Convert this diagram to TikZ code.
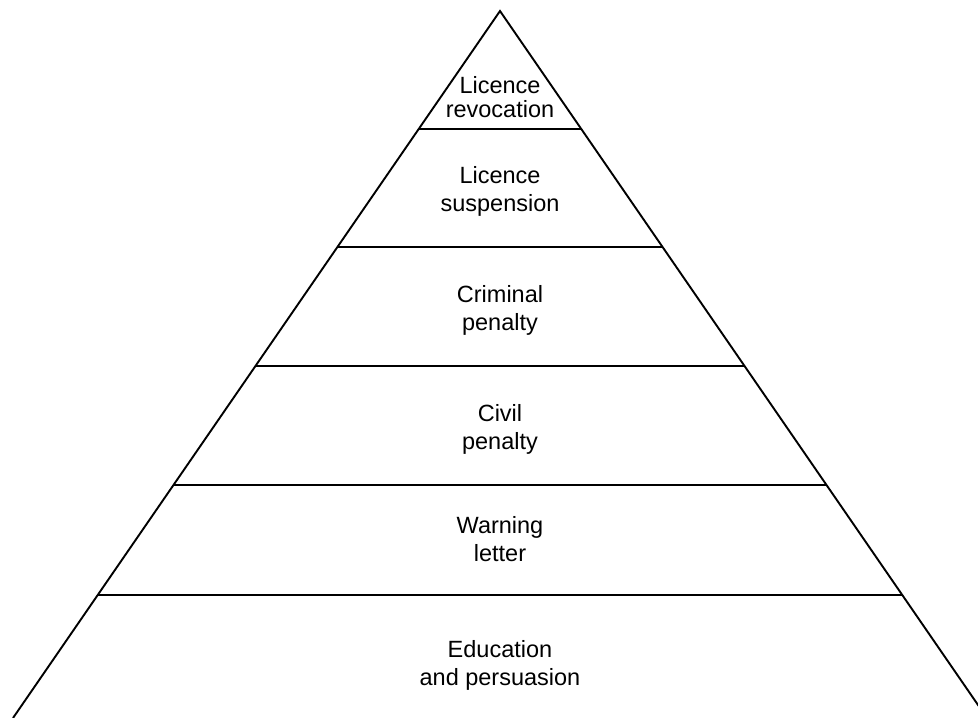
\documentclass[tikz,border=0pt]{standalone}
\usepackage{fontspec}
\setmainfont{Liberation Sans}
\begin{document}
\begin{tikzpicture}[x=1pt,y=-1pt,
  edge/.style={line width=1.9pt,black},
  lbl/.style={align=center,inner sep=0pt,anchor=north,font=\fontsize{23.5}{28}\selectfont},
  lbltight/.style={lbl,font=\fontsize{23.5}{24.5}\selectfont}]
\useasboundingbox (0,0) rectangle (978,718);
\clip (0,0) rectangle (978,718);
\fill[white] (0,0) rectangle (978,718);
% apex and base corners
\coordinate (apex) at (500,11);
\coordinate (bl) at (13,718);
\coordinate (br) at (987,718);
\draw[edge,line join=miter] (bl) -- (apex) -- (br);
% band dividers (ends on sides)
\foreach \y/\n in {129/a,247/b,366/c,485/d,595/e}{
  \coordinate (l\n) at ({500-0.6888*(\y-11)},\y);
  \coordinate (r\n) at ({500+0.6888*(\y-11)},\y);
  \draw[edge] (l\n) -- (r\n);
}
\node[lbltight] (t1) at (500,76) {Licence\\revocation};
\node[lbl] (t2) at (500,166) {Licence\\suspension};
\node[lbl] (t3) at (500,285) {Criminal\\penalty};
\node[lbl] (t4) at (500,404) {Civil\\penalty};
\node[lbl] (t5) at (500,516) {Warning\\letter};
\node[lbl] (t6) at (500,640) {Education\\and persuasion};
\end{tikzpicture}
\end{document}
